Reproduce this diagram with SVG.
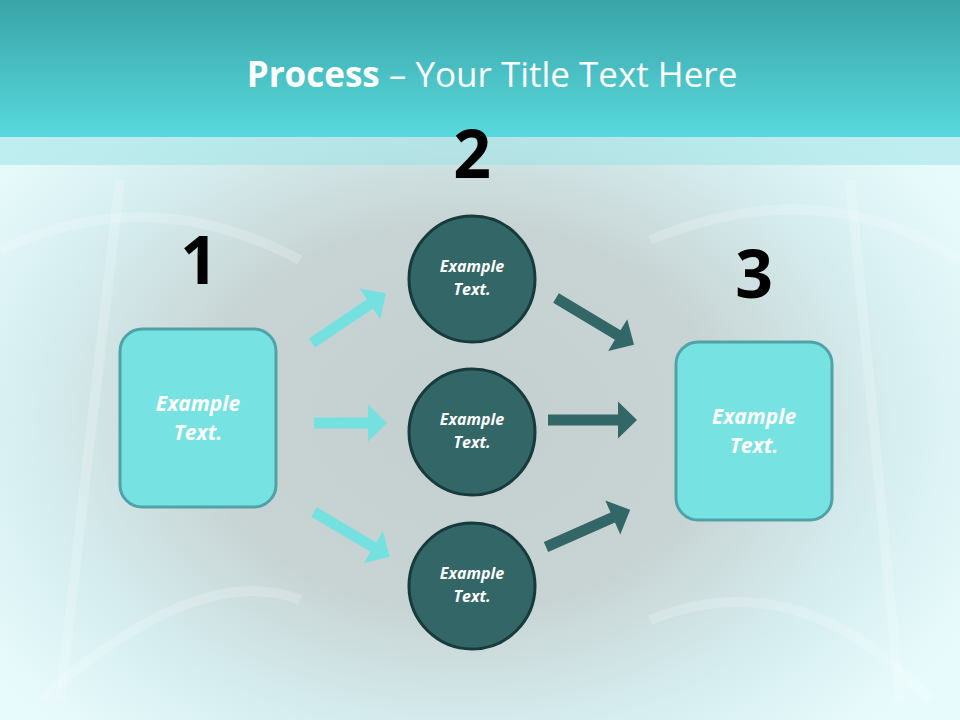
<svg xmlns="http://www.w3.org/2000/svg" width="960" height="720" viewBox="0 0 960 720">
<defs>
<linearGradient id="hd" x1="0" y1="0" x2="0" y2="1"><stop offset="0" stop-color="#3aa4a8"/><stop offset="1" stop-color="#58d9dd"/></linearGradient>
<radialGradient id="bg" cx="0.48" cy="0.58" r="0.6"><stop offset="0" stop-color="#c4cfcf"/><stop offset="0.45" stop-color="#c8d4d4"/><stop offset="0.75" stop-color="#d6eef0"/><stop offset="1" stop-color="#e8fbfc"/></radialGradient>
</defs>
<style>
.lt{fill:#74e0e0}.dk{fill:#336666}
.c{fill:#336666;stroke:#173a3a;stroke-width:3}
.r{fill:#77e2e2;stroke:#4fa3a8;stroke-width:3}
.t{font-family:"Open Sans",sans-serif;font-style:italic;font-weight:bold;fill:#fff;text-anchor:middle}
.n{font-family:"Open Sans",sans-serif;font-weight:bold;font-size:66px;fill:#000;text-anchor:middle}
</style>
<rect width="960" height="720" fill="url(#bg)"/>
<g fill="none" stroke="#ffffff" stroke-opacity="0.2" stroke-width="10">
<path d="M0,250 Q150,180 300,260"/><path d="M650,240 Q820,170 960,260"/><path d="M40,700 Q200,560 300,600"/><path d="M650,620 Q800,560 930,700"/><path d="M120,180 L60,700"/><path d="M850,180 L900,700"/>
</g>
<rect y="0" width="960" height="137" fill="url(#hd)"/>
<rect y="137" width="960" height="28" fill="#9fe3e6" opacity="0.55"/>
<text x="492" y="87" font-family="Open Sans, sans-serif" font-size="35" fill="#fff" text-anchor="middle"><tspan font-weight="bold">Process</tspan> – Your Title Text Here</text>
<g id="connectors">
<path class="lt" d="M0,-5.5 H70 V-18.5 L89,0 L70,18.5 V5.5 H0 Z" transform="translate(312,343) rotate(-34)"/>
<path class="lt" d="M0,-5.5 H54 V-18.5 L73,0 L54,18.5 V5.5 H0 Z" transform="translate(314,423)"/>
<path class="lt" d="M0,-5.5 H69 V-18.5 L88,0 L69,18.5 V5.5 H0 Z" transform="translate(314,512) rotate(30.6)"/>
<path class="dk" d="M0,-5.5 H72 V-18.5 L91,0 L72,18.5 V5.5 H0 Z" transform="translate(556,298) rotate(31)"/>
<path class="dk" d="M0,-5.5 H70 V-18.5 L89,0 L70,18.5 V5.5 H0 Z" transform="translate(548,420)"/>
<path class="dk" d="M0,-5.5 H73 V-18.5 L92,0 L73,18.5 V5.5 H0 Z" transform="translate(546,547) rotate(-23.8)"/>
</g>
<g id="n1"><rect class="r" x="120" y="329" width="156" height="178" rx="22"/><text class="t" font-size="21" x="198" y="411">Example</text><text class="t" font-size="21" x="198" y="440">Text.</text></g>
<g id="n2"><rect class="r" x="676" y="342" width="156" height="178" rx="22"/><text class="t" font-size="21" x="754" y="424">Example</text><text class="t" font-size="21" x="754" y="453">Text.</text></g>
<g id="c1"><circle class="c" cx="472" cy="279" r="63"/><text class="t" font-size="16" x="472" y="272">Example</text><text class="t" font-size="16" x="472" y="295">Text.</text></g>
<g id="c2"><circle class="c" cx="472" cy="432" r="63"/><text class="t" font-size="16" x="472" y="425">Example</text><text class="t" font-size="16" x="472" y="448">Text.</text></g>
<g id="c3"><circle class="c" cx="472" cy="586" r="63"/><text class="t" font-size="16" x="472" y="579">Example</text><text class="t" font-size="16" x="472" y="602">Text.</text></g>
<text class="n" x="199" y="284">1</text>
<text class="n" x="472" y="178">2</text>
<text class="n" x="754" y="298">3</text>
</svg>
